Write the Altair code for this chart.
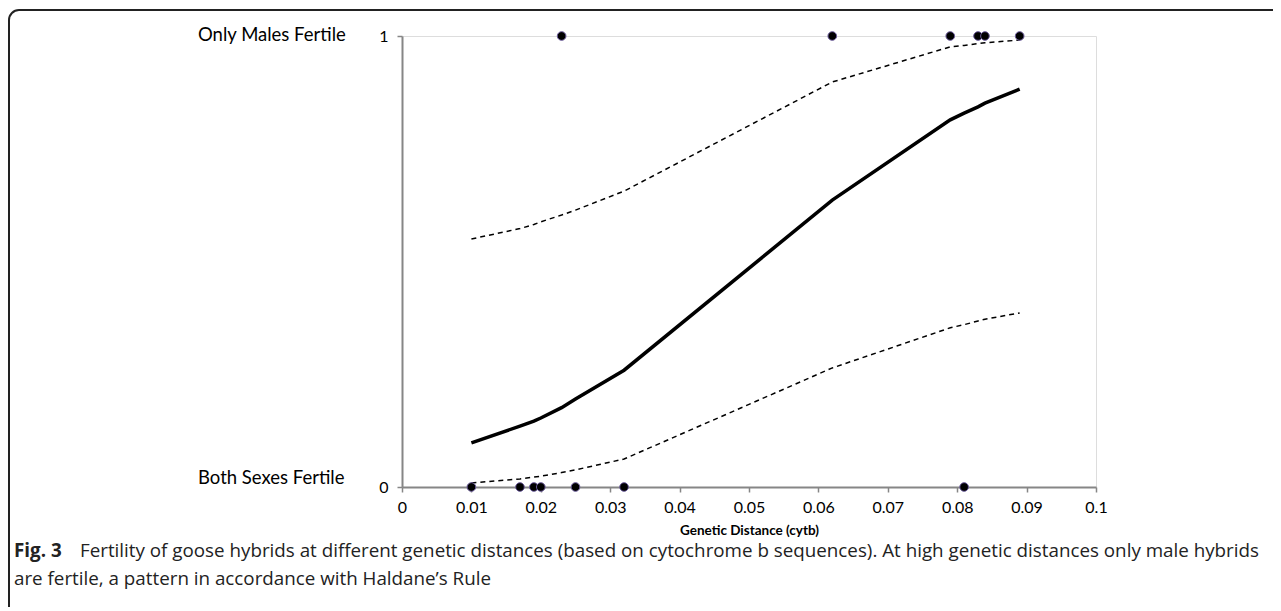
import altair as alt
import pandas as pd

# Data
zero_x = [0.01, 0.017, 0.019, 0.02, 0.025, 0.032, 0.081]
one_x = [0.023, 0.062, 0.079, 0.083, 0.084, 0.089]

fit_x = [0.01, 0.017, 0.019, 0.02, 0.023, 0.025, 0.032, 0.062, 0.079, 0.081, 0.083, 0.084, 0.089]
fit_mid = [0.098, 0.135, 0.146, 0.153, 0.176, 0.195, 0.259, 0.636, 0.814, 0.829, 0.843, 0.851, 0.882]
fit_upper = [0.550, 0.573, 0.582, 0.588, 0.603, 0.614, 0.656, 0.898, 0.976, 0.979, 0.983, 0.985, 0.991]
fit_lower = [0.009, 0.018, 0.022, 0.024, 0.032, 0.038, 0.062, 0.264, 0.353, 0.360, 0.368, 0.372, 0.386]

x_ticks = [0, 0.01, 0.02, 0.03, 0.04, 0.05, 0.06, 0.07, 0.08, 0.09, 0.1]
y_ticks = [0, 1]
cat_labels = ["Both Sexes Fertile", "Only Males Fertile"]

caption_bold = "Fig. 3"
caption_line1 = "Fertility of goose hybrids at different genetic distances (based on cytochrome b sequences). At high genetic distances only male hybrids"
caption_line2 = "are fertile, a pattern in accordance with Haldane\u2019s Rule"

pts = pd.DataFrame({
    "x": zero_x + one_x,
    "y": [0] * len(zero_x) + [1] * len(one_x),
})
fit = pd.DataFrame({"x": fit_x, "mid": fit_mid, "upper": fit_upper, "lower": fit_lower})
cats = pd.DataFrame({"y": y_ticks, "label": cat_labels})

FONT = "Lato"
CAPFONT = "Open Sans"
AX = "#868686"

xs = alt.Scale(domain=[0, 0.1], nice=False, zero=False)
ys = alt.Scale(domain=[0, 1], nice=False)

xaxis = alt.Axis(values=x_ticks, format="~g", grid=False, title="Genetic Distance (cytb)",
                 titleFont=FONT, titleFontSize=13.5, titleFontWeight="bold", titleColor="#000",
                 titlePadding=8, labelFont=FONT, labelFontSize=16, labelColor="#000",
                 labelPadding=7, tickSize=5, tickColor=AX, domainColor=AX, domainWidth=2,
                 tickWidth=1.5, labelFlush=False)
yaxis = alt.Axis(values=y_ticks, format="d", grid=False, title=None,
                 labelFont=FONT, labelFontSize=16, labelColor="#000", labelPadding=9,
                 tickSize=5, tickColor=AX, domainColor=AX, domainWidth=2, tickWidth=1.5)

base_x = alt.X("x:Q", scale=xs, axis=xaxis)

upper = alt.Chart(fit).mark_line(color="black", strokeWidth=1.5, strokeDash=[5, 4]).encode(
    x=base_x, y=alt.Y("upper:Q", scale=ys, axis=yaxis))
lower = alt.Chart(fit).mark_line(color="black", strokeWidth=1.5, strokeDash=[5, 4]).encode(
    x="x:Q", y="lower:Q")
mid = alt.Chart(fit).mark_line(color="black", strokeWidth=3.5).encode(x="x:Q", y="mid:Q")

points = alt.Chart(pts).mark_point(filled=True, size=75, color="black", stroke="#6a5a9a",
                                   strokeWidth=1, opacity=1).encode(
    x="x:Q", y="y:Q")

cat_top = alt.Chart(cats[cats.y == 1]).mark_text(align="left", baseline="middle", font=FONT,
                                                 fontSize=18.5, color="#000", dy=-1).encode(
    x=alt.value(-204), y="y:Q", text="label:N")
cat_bot = alt.Chart(cats[cats.y == 0]).mark_text(align="left", baseline="middle", font=FONT,
                                                 fontSize=18.5, color="#000", dy=-9).encode(
    x=alt.value(-204), y="y:Q", text="label:N")

frame = alt.Chart(pd.DataFrame({"a": [0]})).mark_rect(
    filled=False, stroke="#222", strokeWidth=2, cornerRadius=10).encode(
    x=alt.value(-393), x2=alt.value(1000), y=alt.value(-26), y2=alt.value(800))

cap_df = pd.DataFrame({"t": [caption_bold]})
cap_bold = alt.Chart(cap_df).mark_text(align="left", baseline="middle", font=CAPFONT, fontSize=18.8,
                                       fontWeight="bold", color="#222").encode(
    x=alt.value(-388), y=alt.value(515), text=alt.value(caption_bold))
cap1 = alt.Chart(cap_df).mark_text(align="left", baseline="middle", font=CAPFONT, fontSize=18.8,
                                   color="#222").encode(
    x=alt.value(-322), y=alt.value(515), text=alt.value(caption_line1))
cap2 = alt.Chart(cap_df).mark_text(align="left", baseline="middle", font=CAPFONT, fontSize=18.8,
                                   color="#222").encode(
    x=alt.value(-388), y=alt.value(543), text=alt.value(caption_line2))

chart = alt.layer(upper, lower, mid, points, cat_top, cat_bot, frame, cap_bold, cap1, cap2).properties(
    width=694, height=451,
    autosize=alt.AutoSizeParams(type="none"),
    padding={"left": 394, "top": 28, "right": 177, "bottom": 120},
).configure_view(stroke=None).configure(background="white")

chart.save("out.html", embed_options={"renderer": "svg", "actions": False})
